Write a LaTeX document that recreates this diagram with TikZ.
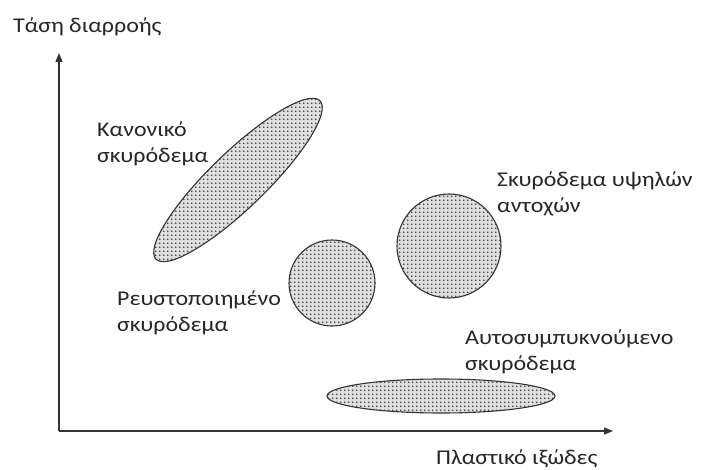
\documentclass[tikz,border=0pt]{standalone}
\usepackage{fontspec}
\setmainfont{Carlito}
\usetikzlibrary{patterns,arrows.meta,shapes.geometric}
% dense dot screen used inside the regions
\pgfdeclarepatternformonly{densedots}{\pgfqpoint{0pt}{0pt}}{\pgfqpoint{4.2pt}{4.2pt}}{\pgfqpoint{4.2pt}{4.2pt}}{%
  \pgfpathcircle{\pgfqpoint{2.1pt}{2.1pt}}{1.05pt}\pgfusepath{fill}}
\tikzset{
  region/.style={draw=black!80, line width=1.1pt, fill=black!12,
    postaction={pattern=densedots, pattern color=black!75}},
  axis/.style={draw=black!80, line width=1.3pt, -{Triangle[length=9pt,width=7pt]}},
  lbl/.style={font=\fontsize{21}{26}\selectfont, text=black!85, align=left,
    inner sep=0pt, xscale=1.14},
}
\begin{document}
\begin{tikzpicture}[x=1pt,y=-1pt]
  \useasboundingbox (0,0) rectangle (703,470);
  % axes
  \coordinate (o) at (59,431);
  \coordinate (ytop) at (59,53);
  \coordinate (xend) at (613,431);
  \draw[axis] (o) -- (ytop);
  \draw[axis] (o) -- (xend);
  % regions
  \node[region, ellipse, minimum width=228pt, minimum height=56pt, rotate=44, inner sep=0pt] (normal) at (238,180) {};
  \draw[region] (332,283) circle[radius=43] coordinate (fluid);
  \draw[region] (449,246) circle[radius=52] coordinate (high);
  \draw[region] (441,396) ellipse[x radius=114, y radius=17] coordinate (self);
  % labels (anchored on the last baseline)
  \node[lbl, anchor=base west] (ylab) at (13,33) {Τάση διαρροής};
  \node[lbl, anchor=base west] (xlab) at (436,464) {Πλαστικό ιξώδες};
  \node[lbl, anchor=base west] (lnormal) at (97,163) {Κανονικό\\σκυρόδεμα};
  \node[lbl, anchor=base west] (lhigh) at (497,213) {Σκυρόδεμα υψηλών\\αντοχών};
  \node[lbl, anchor=base west] (lfluid) at (117,331) {Ρευστοποιημένο\\σκυρόδεμα};
  \node[lbl, anchor=base west] (lself) at (465,370) {Αυτοσυμπυκνούμενο\\σκυρόδεμα};
\end{tikzpicture}
\end{document}
